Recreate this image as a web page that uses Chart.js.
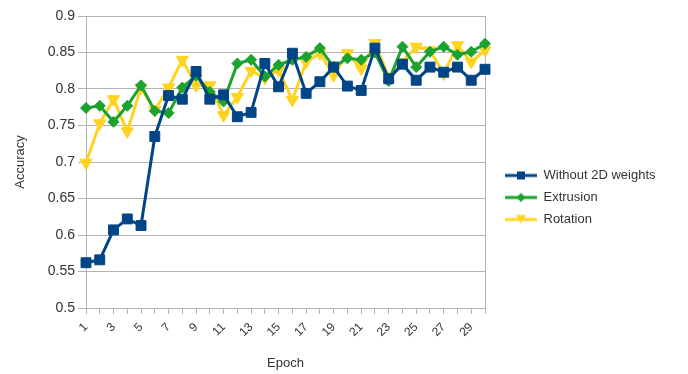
<!DOCTYPE html>
<html>
<head>
<meta charset="utf-8">
<script src="https://cdn.jsdelivr.net/npm/chart.js@4/dist/chart.umd.min.js"></script>
<style>
  html, body { margin: 0; padding: 0; background: #fff; }
  #wrap { width: 688px; height: 374px; }
</style>
</head>
<body>
<div id="wrap"><canvas id="accChart" width="688" height="374"></canvas></div>
<script>
// epochs 1..30
const epochs = ["1","2","3","4","5","6","7","8","9","10","11","12","13","14","15",
  "16","17","18","19","20","21","22","23","24","25","26","27","28","29","30"];

const without2D = [0.562, 0.566, 0.607, 0.622, 0.613, 0.735, 0.791, 0.786, 0.824, 0.786,
  0.792, 0.762, 0.768, 0.835, 0.803, 0.849, 0.794, 0.810, 0.830, 0.804,
  0.798, 0.856, 0.814, 0.834, 0.812, 0.830, 0.823, 0.830, 0.812, 0.827];

const extrusion = [0.774, 0.777, 0.755, 0.777, 0.805, 0.770, 0.767, 0.802, 0.818, 0.796,
  0.783, 0.835, 0.840, 0.817, 0.833, 0.840, 0.844, 0.856, 0.830, 0.842,
  0.840, 0.850, 0.811, 0.858, 0.830, 0.851, 0.858, 0.847, 0.851, 0.862];

const rotation = [0.699, 0.753, 0.786, 0.742, 0.802, 0.771, 0.802, 0.840, 0.805, 0.805,
  0.764, 0.789, 0.825, 0.815, 0.826, 0.785, 0.837, 0.849, 0.819, 0.849,
  0.828, 0.863, 0.817, 0.837, 0.858, 0.853, 0.821, 0.860, 0.837, 0.853];

const seriesNames = ["Without 2D weights", "Extrusion", "Rotation"];

const BLUE = "#004586", GREEN = "#1ca22e", YELLOW = "#ffd320";
const GRID = "#b3b3b3", TEXT = "#333333";

// little line+marker icons for the legend
function legendIcon(color, shape) {
  const c = document.createElement("canvas");
  c.width = 32; c.height = 12;
  const g = c.getContext("2d");
  g.strokeStyle = color; g.fillStyle = color; g.lineWidth = 3;
  g.beginPath(); g.moveTo(0, 6); g.lineTo(32, 6); g.stroke();
  g.beginPath();
  if (shape === "square") {
    g.rect(12, 2, 8, 8);
  } else if (shape === "diamond") {
    g.moveTo(16, 1.5); g.lineTo(20.5, 6); g.lineTo(16, 10.5); g.lineTo(11.5, 6);
  } else {
    g.moveTo(11, 1.5); g.lineTo(21, 1.5); g.lineTo(16, 10);
  }
  g.closePath(); g.fill();
  return c;
}
const icons = [legendIcon(BLUE, "square"), legendIcon(GREEN, "diamond"), legendIcon(YELLOW, "tri")];

// pin the legend box so the plot ends where the reference does
const legendPin = {
  id: "legendPin",
  beforeLayout(chart) {
    const lg = chart.legend;
    if (lg && !lg._pinned) {
      const fit = lg.fit.bind(lg);
      lg.fit = function () { fit(); this.width = 203; };
      lg._pinned = true;
    }
  },
  beforeDraw(chart) {
    const lg = chart.legend;
    if (lg) { lg.left = 496; lg.top = 160; }
  }
};

Chart.defaults.font.family = "'Liberation Sans', Arial, sans-serif";
Chart.defaults.color = TEXT;

function ds(label, data, color, style, radius, rot) {
  return {
    label: label,
    data: data,
    borderColor: color,
    backgroundColor: color,
    borderWidth: 3,
    pointStyle: style,
    pointRadius: radius,
    pointHoverRadius: radius,
    pointRotation: rot || 0,
    pointBorderWidth: 1,
    tension: 0
  };
}

new Chart(document.getElementById("accChart"), {
  type: "line",
  data: {
    labels: epochs,
    datasets: [
      ds(seriesNames[0], without2D, BLUE, "rect", 7),
      ds(seriesNames[1], extrusion, GREEN, "rectRot", 5.5),
      ds(seriesNames[2], rotation, YELLOW, "triangle", 7, 180)
    ]
  },
  options: {
    responsive: false,
    animation: false,
    layout: { padding: { top: 16, left: 0, right: 0, bottom: 0 } },
    plugins: {
      tooltip: { enabled: false },
      legend: {
        position: "right",
        align: "start",
        labels: {
          usePointStyle: true,
          pointStyleWidth: 32,
          padding: 9,
          font: { size: 13 },
          color: TEXT,
          generateLabels(chart) {
            const items = Chart.defaults.plugins.legend.labels.generateLabels(chart);
            items.forEach((it, i) => { it.pointStyle = icons[i]; it.rotation = 0; });
            return items;
          }
        }
      }
    },
    scales: {
      x: {
        offset: false,
        grid: {
          drawOnChartArea: true,
          color: ctx => ctx.index === epochs.length - 1 ? GRID : "rgba(0,0,0,0)",
          tickColor: GRID,
          tickLength: 6
        },
        border: { color: GRID },
        ticks: {
          autoSkip: false,
          maxRotation: 45,
          minRotation: 45,
          padding: 6,
          font: { size: 12 },
          color: TEXT,
          callback: function (v, i) { return i % 2 === 0 ? epochs[i] : ""; }
        },
        title: { display: true, text: "Epoch", font: { size: 13 }, color: TEXT, padding: { top: 4, bottom: 3 } },
        afterFit(scale) { scale.height = 66; }
      },
      y: {
        min: 0.5,
        max: 0.9,
        grid: { color: GRID, tickColor: GRID, tickLength: 8 },
        border: { color: GRID },
        ticks: {
          stepSize: 0.05,
          padding: 3,
          font: { size: 14 },
          color: TEXT,
          callback: v => String(parseFloat(v.toFixed(2)))
        },
        title: { display: true, text: "Accuracy", font: { size: 13 }, color: TEXT, padding: { top: 13, bottom: 4 } },
        afterFit(scale) { scale.width = 86; }
      }
    }
  },
  plugins: [legendPin]
});
</script>
</body>
</html>
